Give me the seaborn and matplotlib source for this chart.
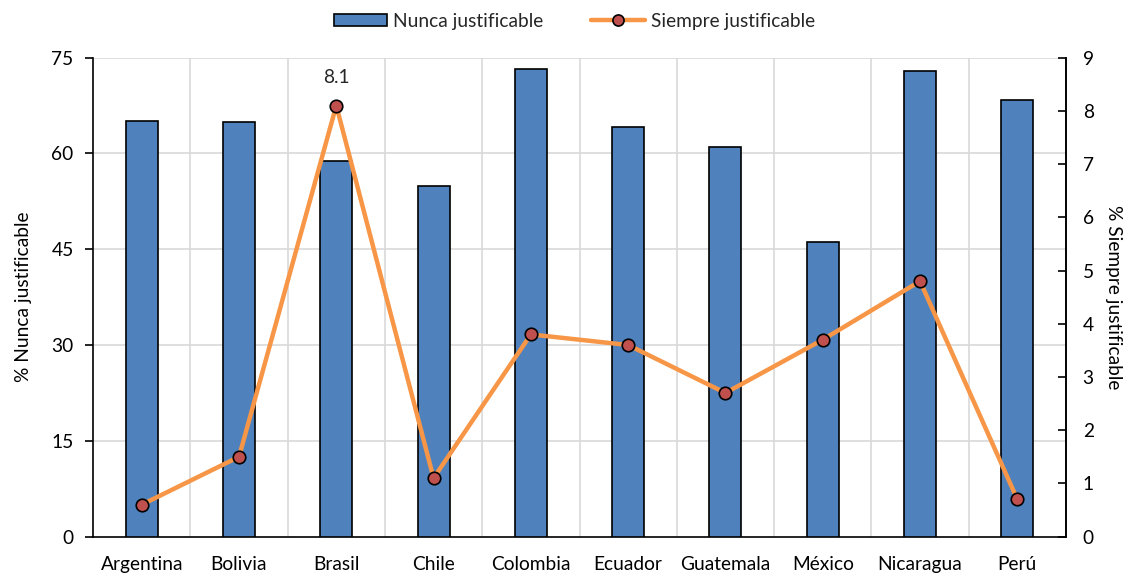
import numpy as np
import matplotlib
matplotlib.use("Agg")
import matplotlib.pyplot as plt
import seaborn as sns
from matplotlib.patches import Patch
from matplotlib.lines import Line2D

paises = ["Argentina", "Bolivia", "Brasil", "Chile", "Colombia",
          "Ecuador", "Guatemala", "México", "Nicaragua", "Perú"]
nunca = [65.1, 65.0, 58.8, 54.9, 73.2, 64.2, 61.0, 46.1, 72.9, 68.4]
siempre = [0.6, 1.5, 8.1, 1.1, 3.8, 3.6, 2.7, 3.7, 4.8, 0.7]

left_ticks = [0, 15, 30, 45, 60, 75]
right_ticks = list(range(0, 10))

sns.set_theme(style="white")
plt.rcParams["font.family"] = ["Lato", "DejaVu Sans"]

BLUE = "#4F81BD"
ORANGE = "#F79646"
RED = "#C0504D"
GRID = "#D9D9D9"
FS = 13.8

fig, ax = plt.subplots(figsize=(11.28, 5.77), dpi=100)
fig.subplots_adjust(left=0.0825, right=0.945, top=0.9, bottom=0.07)

sns.barplot(x=paises, y=nunca, ax=ax, color=BLUE, width=0.33,
            edgecolor="black", linewidth=1.2, saturation=1, zorder=3)

n = len(paises)
ax.set_xlim(-0.5, n - 0.5)
ax.set_ylim(0, 75)
ax.set_yticks(left_ticks)
ax.set_xticks(np.arange(n))
ax.set_xticklabels(paises)
ax.set_xticks(np.arange(n + 1) - 0.5, minor=True)
ax.tick_params(axis="x", which="major", length=0, labelsize=FS, pad=14, colors="black")
ax.tick_params(axis="x", which="minor", length=6, width=1.2, direction="out", color="black")
ax.tick_params(axis="y", length=6, width=1.2, direction="out", labelsize=FS, colors="black",
               left=True, pad=8)
for y in left_ticks[1:]:
    ax.axhline(y, color=GRID, lw=1.2, zorder=0)
for x in np.arange(1, n) - 0.5:
    ax.axvline(x, color=GRID, lw=1.2, zorder=0)
ax.spines["top"].set_visible(False)
for s in ["left", "bottom", "right"]:
    ax.spines[s].set_color("black")
    ax.spines[s].set_linewidth(1.2)
ax.set_ylabel("% Nunca justificable", fontsize=FS, color="black", labelpad=14)

ax2 = ax.twinx()
sns.lineplot(x=np.arange(n), y=siempre, ax=ax2, color=ORANGE, linewidth=3.2,
             marker="o", markersize=9, markerfacecolor=RED, markeredgecolor="black",
             markeredgewidth=1.2, zorder=5)
ax2.set_ylim(0, 9)
ax2.set_yticks(right_ticks)
ax2.tick_params(axis="y", length=6, width=1.2, direction="in", labelsize=FS, colors="black",
                right=True, pad=12)
ax2.spines["top"].set_visible(False)
ax2.spines["right"].set_color("black")
ax2.spines["right"].set_linewidth(1.2)
ax2.spines["left"].set_visible(False)
ax2.spines["bottom"].set_visible(False)
ax2.set_ylabel("% Siempre justificable", fontsize=FS, rotation=270, labelpad=20, color="black")

i_max = int(np.argmax(siempre))
ax2.annotate(f"{siempre[i_max]:.1f}", (i_max, siempre[i_max]), xytext=(0, 14),
             textcoords="offset points", ha="center", va="bottom", fontsize=FS)

handles = [
    Patch(facecolor=BLUE, edgecolor="black", linewidth=1.2),
    Line2D([0], [0], color=ORANGE, lw=3.2, marker="o", markersize=8,
           markerfacecolor=RED, markeredgecolor="black", markeredgewidth=1.2),
]
fig.legend(handles, ["Nunca justificable", "Siempre justificable"], loc="center",
           bbox_to_anchor=(0.509, 0.963), ncol=2, frameon=False, fontsize=FS,
           handlelength=2.8, handleheight=0.6, columnspacing=2.5, handletextpad=0.3)

fig.savefig("out.png", dpi=100)
